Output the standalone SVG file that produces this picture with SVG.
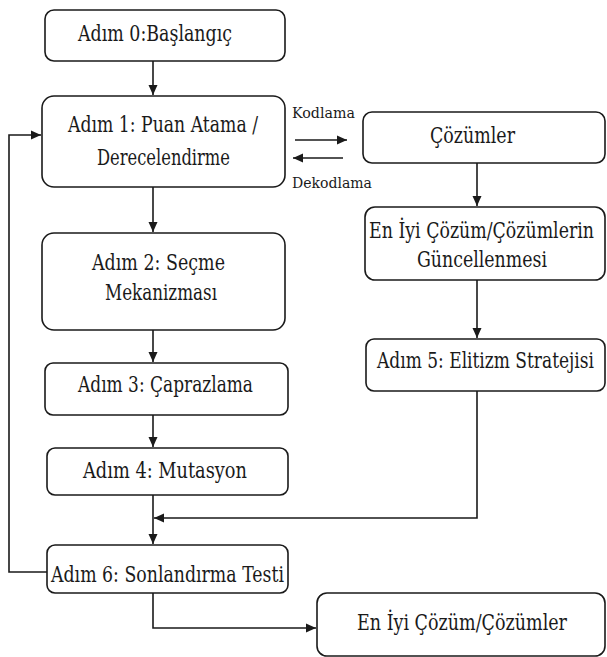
<svg xmlns="http://www.w3.org/2000/svg" width="607" height="657" viewBox="0 0 607 657">
<defs>
<marker id="ah" markerUnits="userSpaceOnUse" markerWidth="10" markerHeight="10" viewBox="0 0 10 10" refX="10" refY="5" orient="auto">
<path d="M0,0.5 L10,5 L0,9.5 Z" fill="#1a1a1a"/>
</marker>
<style>
rect.n{fill:#fff;stroke:#1a1a1a;stroke-width:1.6}
text{font-family:"DejaVu Serif","Liberation Serif",serif;font-size:23px;fill:#1a1a1a}
text.s{font-size:15px}
.c path{fill:none;stroke:#1a1a1a;stroke-width:1.6}
</style>
</defs>
<rect width="607" height="657" fill="#fff"/>
<g id="n0"><rect class="n" x="45" y="10" width="240" height="51" rx="9"/>
<text x="78" y="41" textLength="154" lengthAdjust="spacingAndGlyphs">Adım 0:Başlangıç</text></g>
<g id="n1"><rect class="n" x="42" y="96" width="243" height="91" rx="12"/>
<text x="68" y="132" textLength="190" lengthAdjust="spacingAndGlyphs">Adım 1: Puan Atama /</text>
<text x="97" y="165" textLength="133" lengthAdjust="spacingAndGlyphs">Derecelendirme</text></g>
<g id="n2"><rect class="n" x="42" y="233" width="243" height="97" rx="12"/>
<text x="92" y="270" textLength="133" lengthAdjust="spacingAndGlyphs">Adım 2: Seçme</text>
<text x="105" y="300" textLength="112" lengthAdjust="spacingAndGlyphs">Mekanizması</text></g>
<g id="n3"><rect class="n" x="45" y="363" width="243" height="52" rx="8"/>
<text x="78" y="392" textLength="175" lengthAdjust="spacingAndGlyphs">Adım 3: Çaprazlama</text></g>
<g id="n4"><rect class="n" x="47" y="448" width="241" height="47" rx="8"/>
<text x="83" y="478" textLength="164" lengthAdjust="spacingAndGlyphs">Adım 4: Mutasyon</text></g>
<g id="n6"><rect class="n" x="47" y="545" width="241" height="48" rx="8"/>
<text x="51" y="582" textLength="233" lengthAdjust="spacingAndGlyphs">Adım 6: Sonlandırma Testi</text></g>
<g id="nc"><rect class="n" x="363" y="112" width="242" height="51" rx="9"/>
<text x="430" y="143" textLength="85" lengthAdjust="spacingAndGlyphs">Çözümler</text></g>
<g id="nb"><rect class="n" x="365" y="207" width="240" height="73" rx="10"/>
<text x="369" y="238" textLength="225" lengthAdjust="spacingAndGlyphs">En İyi Çözüm/Çözümlerin</text>
<text x="417" y="267" textLength="130" lengthAdjust="spacingAndGlyphs">Güncellenmesi</text></g>
<g id="n5"><rect class="n" x="366" y="339" width="239" height="52" rx="8"/>
<text x="377" y="368" textLength="217" lengthAdjust="spacingAndGlyphs">Adım 5: Elitizm  Stratejisi</text></g>
<g id="nf"><rect class="n" x="317" y="593" width="288" height="63" rx="10"/>
<text x="357" y="630" textLength="210" lengthAdjust="spacingAndGlyphs">En İyi Çözüm/Çözümler</text></g>
<g class="c" id="connectors">
<path d="M153,61 V95" marker-end="url(#ah)"/>
<path d="M153,187 V232" marker-end="url(#ah)"/>
<path d="M153,330 V362" marker-end="url(#ah)"/>
<path d="M153,415 V447" marker-end="url(#ah)"/>
<path d="M153,495 V544" marker-end="url(#ah)"/>
<path d="M477,391 V518 H154" marker-end="url(#ah)"/>
<path d="M47,572 H9 V135 H41" marker-end="url(#ah)"/>
<path d="M153,593 V628 H316" marker-end="url(#ah)"/>
<path d="M477,163 V206" marker-end="url(#ah)"/>
<path d="M477,280 V338" marker-end="url(#ah)"/>
<path d="M295,140 H347" marker-end="url(#ah)"/>
<path d="M343,158 H293" marker-end="url(#ah)"/>
</g>
<text class="s" x="292" y="118" textLength="63" lengthAdjust="spacingAndGlyphs">Kodlama</text>
<text class="s" x="292" y="188" textLength="80" lengthAdjust="spacingAndGlyphs">Dekodlama</text>
</svg>
